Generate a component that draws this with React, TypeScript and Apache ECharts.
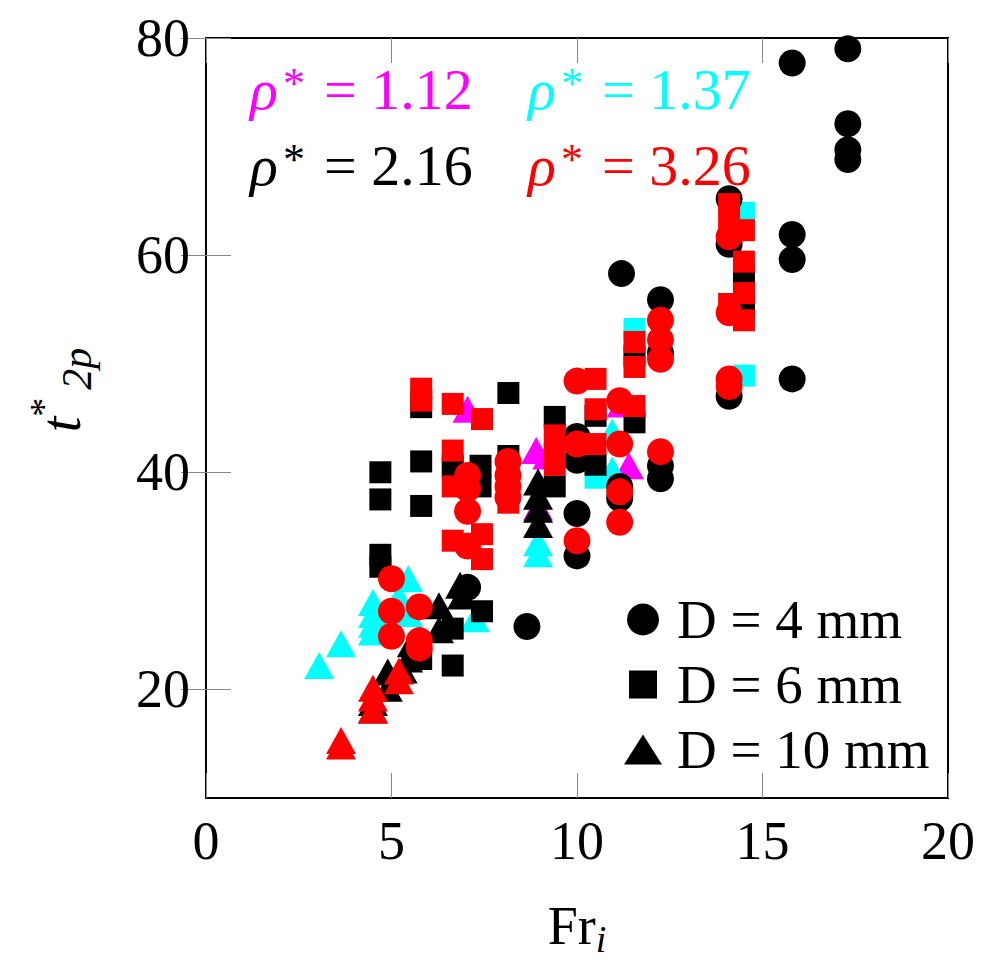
import { useEffect, useRef } from 'react';
import * as echarts from 'echarts';

const FONT = 'Liberation Serif';
const yTicks = [20, 40, 60, 80];

// rho* = 1.12 (magenta)
const magentaTriangles: [number, number][] = [
  [7.05, 45.8], [8.9, 42.0], [8.95, 36.8], [9.2, 41.5], [11.2, 46.3], [11.4, 40.6],
];
// rho* = 1.37 (cyan)
const cyanSquares: [number, number][] = [
  [11.55, 53.2], [10.5, 39.5], [14.5, 63.9], [14.5, 48.9],
];
const cyanTriangles: [number, number][] = [
  [3.05, 22.2], [3.64, 24.2], [4.5, 28.0], [4.5, 26.9], [4.5, 26.0], [4.5, 25.3],
  [5.45, 30.2], [5.2, 28.5], [5.45, 27.0], [7.25, 26.5], [8.95, 33.5], [8.95, 32.5],
  [10.95, 43.7], [10.95, 40.2],
];
// rho* = 2.16 (black)
const blackCircles: [number, number][] = [
  [17.3, 79.0], [17.3, 72.1], [17.3, 69.7], [17.3, 68.8],
  [15.8, 77.7], [15.8, 61.9], [15.8, 59.6], [15.8, 48.6],
  [14.1, 65.2], [14.1, 61.0], [14.1, 47.0],
  [12.25, 55.9], [12.25, 51.0], [12.25, 40.6], [12.25, 39.4],
  [11.2, 58.3], [11.15, 38.7], [11.15, 37.6],
  [10.0, 43.3], [10.0, 41.1], [10.0, 36.2], [10.0, 32.3],
  [8.65, 25.8], [7.05, 29.4],
];
const blackSquares: [number, number][] = [
  [4.7, 40.0], [4.7, 37.5], [4.7, 32.4], [4.7, 31.3],
  [5.8, 46.0], [5.8, 41.0], [5.8, 36.9], [5.8, 22.8],
  [6.65, 40.6], [6.65, 25.6], [6.65, 22.2],
  [7.4, 40.6], [7.4, 38.7], [7.44, 27.2],
  [8.15, 47.3], [8.15, 41.5],
  [9.4, 45.1], [9.4, 38.7],
  [10.5, 45.2], [10.5, 40.7],
  [11.55, 44.6], [11.55, 50.7],
  [14.5, 58.0], [14.5, 55.3],
];
const blackTriangles: [number, number][] = [
  [4.5, 18.1], [4.5, 18.8], [4.9, 20.1], [4.9, 21.6], [5.3, 21.8], [5.45, 22.8],
  [5.55, 24.2], [6.28, 27.7], [6.28, 25.5], [6.85, 29.6], [6.9, 28.6],
  [8.95, 39.1], [8.95, 37.8], [8.95, 36.6], [8.95, 35.2],
];
// rho* = 3.26 (red)
const redCircles: [number, number][] = [
  [14.1, 61.7], [14.1, 54.7], [14.1, 48.6], [14.1, 47.9],
  [12.25, 54.0], [12.25, 52.2], [12.25, 50.4], [12.25, 41.9],
  [11.15, 46.6], [11.15, 42.6], [11.15, 38.2], [11.15, 35.4],
  [10.0, 48.4], [10.0, 42.6], [10.0, 33.7],
  [8.14, 41.0], [8.14, 39.7], [8.14, 38.7], [8.14, 37.7],
  [7.05, 39.7], [7.05, 38.5], [7.05, 36.4], [7.05, 33.2],
  [5.75, 27.6], [5.75, 24.5], [5.75, 23.8],
  [5.0, 30.2], [5.0, 27.2], [5.0, 24.9],
];
const redSquares: [number, number][] = [
  [5.8, 47.7], [5.8, 46.6],
  [6.65, 46.3], [6.65, 42.0], [6.65, 38.7], [6.65, 33.7],
  [7.44, 44.9], [7.44, 34.3], [7.44, 32.0],
  [8.15, 37.2],
  [9.4, 43.4], [9.4, 41.7], [9.4, 40.7],
  [10.5, 48.6], [10.5, 45.8], [10.5, 42.6],
  [11.55, 52.0], [11.55, 49.7], [11.55, 46.1],
  [14.1, 64.7], [14.1, 62.8], [14.1, 55.5],
  [14.5, 62.3], [14.5, 59.4], [14.5, 56.5], [14.5, 54.0],
];
const redTriangles: [number, number][] = [
  [3.64, 15.3], [3.64, 14.8], [4.5, 20.1], [4.5, 19.2], [4.5, 18.1], [5.2, 21.7], [5.2, 20.8],
];

const rhoLabels = ['1.12', '1.37', '2.16', '3.26'];
const rhoColors = ['#ff00ff', '#00ffff', '#000000', '#ff0000'];
const legendNames = ['D = 4 mm', 'D = 6 mm', 'D = 10 mm'];

const CIRCLE = 27;
const SQUARE = 22;
const TRI: [number, number] = [30, 27];

function sc(name: string, data: [number, number][], color: string, symbol: string, size: any) {
  return {
    type: 'scatter',
    name,
    data,
    symbol,
    symbolSize: size,
    itemStyle: { color, opacity: 1 },
    emphasis: { disabled: true },
    z: 2,
  };
}

const FF = `"${FONT}", "Times New Roman", serif`;

function rhoGroup(i: number, x: number, yc: number) {
  const c = rhoColors[i];
  return {
    type: 'group',
    x,
    y: yc,
    z: 10,
    children: [
      {
        type: 'text', x: 0, y: 0,
        style: { text: 'ρ', fill: c, font: `italic 58px ${FF}`, verticalAlign: 'middle', align: 'left' },
      },
      {
        type: 'text', x: 33, y: -6,
        style: { text: '*', fill: c, font: `44px ${FF}`, verticalAlign: 'middle', align: 'left' },
      },
      {
        type: 'text', x: 74, y: 0,
        style: { text: `= ${rhoLabels[i]}`, fill: c, font: `58px ${FF}`, verticalAlign: 'middle', align: 'left' },
      },
    ],
  };
}

export default function App() {
  const ref = useRef<HTMLDivElement>(null);
  useEffect(() => {
    const chart = echarts.init(ref.current!, null, { renderer: 'svg' });
    const axisFont = { fontFamily: FONT, fontSize: 54, color: '#000' };
    const tick = { show: true, inside: true, length: 25, lineStyle: { color: '#888', width: 1 } };
    const option: any = {
      animation: false,
      backgroundColor: '#fff',
      grid: { left: 206, top: 38, width: 742, height: 761, show: true, borderColor: '#000', borderWidth: 2, backgroundColor: 'transparent' },
      xAxis: [
        {
          type: 'value', min: 0, max: 20, interval: 5,
          name: '{f|Fr}{i|i}', nameLocation: 'middle', nameGap: 96,
          nameTextStyle: {
            fontFamily: FONT, fontSize: 54, color: '#000',
            rich: {
              f: { fontFamily: FONT, fontSize: 54, lineHeight: 64, color: '#000' },
              i: { fontFamily: FONT, fontSize: 38, fontStyle: 'italic', lineHeight: 64, verticalAlign: 'bottom', color: '#000' },
            },
          },
          axisLine: { show: false }, axisTick: tick, splitLine: { show: false },
          axisLabel: { ...axisFont, margin: 16 },
        },
        {
          type: 'value', min: 0, max: 20, interval: 5, position: 'top',
          axisLine: { show: false }, axisTick: tick, splitLine: { show: false },
          axisLabel: { show: false },
        },
      ],
      yAxis: [
        {
          type: 'value', min: 10, max: 80,
          name: '{t|t}{s|*}{b|2p}', nameLocation: 'middle', nameGap: 108,
          nameTextStyle: {
            fontFamily: FONT, fontSize: 54, color: '#000',
            padding: [0, 0, 0, 56],
            rich: {
              t: { fontFamily: FONT, fontSize: 56, fontStyle: 'italic', lineHeight: 74, color: '#000' },
              s: { fontFamily: FONT, fontSize: 38, lineHeight: 74, verticalAlign: 'top', color: '#000' },
              b: { fontFamily: FONT, fontSize: 42, fontStyle: 'italic', lineHeight: 74, verticalAlign: 'bottom', color: '#000', padding: [0, 0, 0, 8] },
            },
          },
          axisLine: { show: false },
          axisTick: { ...tick, customValues: yTicks },
          splitLine: { show: false },
          axisLabel: { ...axisFont, margin: 16, customValues: yTicks },
        },
        {
          type: 'value', min: 10, max: 80, position: 'right',
          axisLine: { show: false },
          axisTick: { ...tick, customValues: yTicks },
          splitLine: { show: false },
          axisLabel: { show: false, customValues: yTicks },
        },
      ],
      legend: {
        left: 624, top: 592, orient: 'vertical', padding: 0, itemGap: 10,
        itemWidth: 38, itemHeight: 32, selectedMode: false,
        textStyle: { fontFamily: FONT, fontSize: 55, lineHeight: 52, color: '#000', padding: [0, 0, 0, 10] },
        data: [
          { name: legendNames[0], icon: 'circle' },
          { name: legendNames[1], icon: 'path://M0,0M38,32M5,2h28v28h-28z' },
          { name: legendNames[2], icon: 'path://M0,0M38,32M19,1L38,31L0,31z' },
        ],
      },
      graphic: [
        rhoGroup(0, 250, 89),
        rhoGroup(1, 528, 89),
        rhoGroup(2, 250, 165),
        rhoGroup(3, 528, 165),
      ],
      series: [
        sc('ρ* = 1.12, D = 10 mm', magentaTriangles, rhoColors[0], 'triangle', TRI),
        sc('ρ* = 1.37, D = 6 mm', cyanSquares, rhoColors[1], 'rect', SQUARE),
        sc('ρ* = 1.37, D = 10 mm', cyanTriangles, rhoColors[1], 'triangle', TRI),
        sc('ρ* = 2.16, D = 4 mm', blackCircles, rhoColors[2], 'circle', CIRCLE),
        sc('ρ* = 2.16, D = 6 mm', blackSquares, rhoColors[2], 'rect', SQUARE),
        sc('ρ* = 2.16, D = 10 mm', blackTriangles, rhoColors[2], 'triangle', TRI),
        sc('ρ* = 3.26, D = 4 mm', redCircles, rhoColors[3], 'circle', CIRCLE),
        sc('ρ* = 3.26, D = 6 mm', redSquares, rhoColors[3], 'rect', SQUARE),
        sc('ρ* = 3.26, D = 10 mm', redTriangles, rhoColors[3], 'triangle', TRI),
        sc(legendNames[0], [], '#000', 'circle', CIRCLE),
        sc(legendNames[1], [], '#000', 'rect', SQUARE),
        sc(legendNames[2], [], '#000', 'triangle', TRI),
      ],
    };
    chart.setOption(option);
    return () => chart.dispose();
  }, []);
  return (
    <div
      ref={ref}
      style={{ position: 'fixed', left: 0, top: 0, width: 995, height: 963, background: '#fff' }}
    />
  );
}
